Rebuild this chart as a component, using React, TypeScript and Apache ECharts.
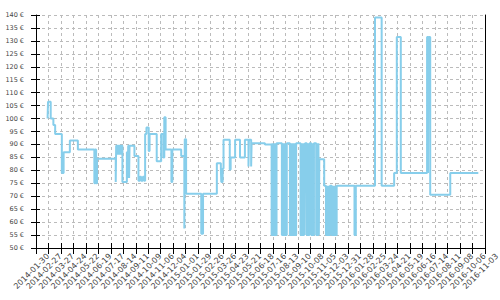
import React, { useEffect, useRef } from "react";
import * as echarts from "echarts";

// Axis start date; x values are days since this date
const startDate = "2014-01-30";
const xMaxDay = 1008;
const xTickStepDays = 28;
const yMin = 50;
const yMax = 140;
const yStep = 5;
const currency = "€";

// Price changes: [days since start, price in €] (value holds until the next change)
const priceChanges: [number, number][] = [
  [26, 100], [27, 106.5], [33, 100], [39, 97.5], [43, 94],
  [58, 79], [62, 87], [76, 91.5], [94, 88],
  [131, 75], [133, 88], [135, 75], [137, 84.5],
  [179, 75.5], [180, 89.5], [182, 86], [183, 89.5], [185, 86], [186, 89.5], [188, 86], [189, 89.5], [191, 86], [192, 89.5], [194, 75.5],
  [204, 87], [206, 77], [207, 89.5], [209, 77], [210, 89.5], [221, 85.5],
  [230, 76], [233, 77.5], [236, 76], [240, 77.5], [243, 76],
  [245, 94], [248, 96.5], [253, 87.5], [255, 94], [271, 83.5], [281, 94], [286, 85], [288, 100.5], [291, 88], [304, 75.5], [306, 88], [326, 85.5],
  [333, 57.5], [334, 92], [337, 71], [371, 55.5], [375, 71],
  [406, 82.7], [415, 80.7], [416, 75.5], [419, 80.7], [421, 91.8], [435, 80.3], [437, 85], [447, 91.8], [458, 85], [469, 91.8], [477, 81.5], [478, 91.8], [483, 81.5], [484, 90.5], [514, 90],
  [529, 55], [531, 90.5], [532, 55], [534, 90.5], [535, 55], [537, 90.5], [538, 55], [540, 90.5],
  [552, 55], [554, 90.5], [555, 55], [557, 90.5], [558, 55], [560, 90.5], [561, 55], [563, 90.5],
  [570, 55], [572, 90.5], [573, 55], [575, 90.5], [576, 55], [578, 90.5], [579, 55], [581, 90.5], [582, 55], [584, 90.5],
  [594, 55], [596, 90.5], [597, 55], [599, 90.5], [600, 55], [602, 90.5], [603, 55], [604, 90.5],
  [608, 55], [610, 90.5], [611, 55], [614, 90.5],
  [618, 55], [620, 90.5], [621, 55], [624, 90.5],
  [629, 55], [631, 90.5], [632, 55], [634, 90.5], [635, 55], [636, 84.3],
  [647, 74],
  [651, 55], [653, 74], [654, 55], [656, 74], [657, 55], [660, 74],
  [664, 55], [666, 74], [667, 55], [669, 74], [670, 55], [672, 74], [673, 55], [675, 74],
  [715, 55], [718, 74], [761, 139], [776, 74], [804, 79], [810, 131.5], [819, 79],
  [878, 131.5], [880, 79], [881, 131.5], [885, 70.6], [930, 79], [993, 79],
];

const FONT = "DejaVu Sans";
const baseMs = Date.parse(startDate + "T00:00:00Z");
const fmtDate = (d: number) =>
  new Date(baseMs + Math.round(d) * 86400000).toISOString().slice(0, 10);

export default function App() {
  const ref = useRef<HTMLDivElement>(null);
  useEffect(() => {
    if (!ref.current) return;
    const chart = echarts.init(ref.current, null, { renderer: "svg" });
    const xCommon = { type: "value", min: 0, max: xMaxDay, interval: xTickStepDays, position: "bottom" };
    const yCommon = { type: "value", min: yMin, max: yMax, interval: yStep };
    const labelShift = 12;
    chart.setOption({
      animation: false,
      backgroundColor: "#ffffff",
      grid: [
        { left: 36, right: 15, top: 15, bottom: 52, containLabel: false, outerBoundsMode: "none" },
        { left: 36 + labelShift, right: 15 - labelShift, top: 15, bottom: 52, containLabel: false, outerBoundsMode: "none" },
      ],
      xAxis: [
        {
          ...xCommon,
          gridIndex: 0,
          axisLine: { show: true, lineStyle: { color: "#000", width: 1 } },
          axisTick: { show: true, inside: false, length: 6, lineStyle: { color: "#000" } },
          axisLabel: { show: false },
          splitLine: { show: true, lineStyle: { color: "#bbbbbb", type: [3, 3], width: 1 } },
        },
        {
          ...xCommon,
          gridIndex: 0,
          axisLine: { show: false },
          axisTick: { show: true, inside: true, length: 5, lineStyle: { color: "#000" } },
          axisLabel: { show: false },
          splitLine: { show: false },
        },
        {
          ...xCommon,
          gridIndex: 1,
          axisLine: { show: false },
          axisTick: { show: false },
          axisLabel: { rotate: 45, fontSize: 8, color: "#444", margin: 7, fontFamily: FONT, formatter: fmtDate },
          splitLine: { show: false },
        },
      ],
      yAxis: [
        {
          ...yCommon,
          gridIndex: 0,
          position: "left",
          axisLine: { show: true, lineStyle: { color: "#000", width: 1 } },
          axisTick: { show: true, inside: false, length: 5, lineStyle: { color: "#000" } },
          axisLabel: { fontSize: 6.5, color: "#444", margin: 12, fontFamily: FONT, formatter: (v: number) => `${v} ${currency}` },
          splitLine: { show: true, lineStyle: { color: "#bbbbbb", type: [3, 3], width: 1 } },
        },
        {
          ...yCommon,
          gridIndex: 0,
          position: "left",
          axisLine: { show: false },
          axisTick: { show: true, inside: true, length: 4, lineStyle: { color: "#000" } },
          axisLabel: { show: false },
          splitLine: { show: false },
        },
        {
          ...yCommon,
          gridIndex: 0,
          position: "right",
          axisLine: { show: true, lineStyle: { color: "#000", width: 1 } },
          axisTick: { show: false },
          axisLabel: { show: false },
          splitLine: { show: false },
        },
        {
          ...yCommon,
          gridIndex: 1,
          show: false,
        },
      ],
      series: [
        {
          type: "line",
          step: "end",
          xAxisIndex: 0,
          yAxisIndex: 0,
          showSymbol: false,
          symbol: "none",
          data: priceChanges,
          lineStyle: { color: "#87CEEB", width: 2 },
        },
      ],
    });
    return () => chart.dispose();
  }, []);
  return (
    <div
      ref={ref}
      style={{ position: "fixed", left: 0, top: 0, width: 500, height: 300, background: "#fff" }}
    />
  );
}
